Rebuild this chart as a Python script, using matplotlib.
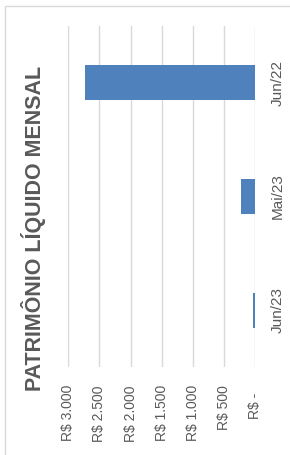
import matplotlib
matplotlib.use("Agg")
import matplotlib.pyplot as plt
from matplotlib.patches import Rectangle

# --- DATI ---
meses = ["Jun/22", "Mai/23", "Jun/23"]
patrimonio = [2730, 226, 40]
ticks_valor = [3000, 2500, 2000, 1500, 1000, 500, 0]
ticks_rotulo = ["R$ 3.000", "R$ 2.500", "R$ 2.000", "R$ 1.500", "R$ 1.000", "R$ 500", "R$ -  "]

COR_BARRA = "#4f81bd"
COR_TEXTO = "#595959"
COR_GRADE = "#d9d9d9"
FONTE = ["Liberation Sans", "DejaVu Sans"]

W, H = 290, 455
fig = plt.figure(figsize=(W / 100, H / 100), dpi=100)

# area do grafico (em pixels da imagem de referencia)
x0, x1 = 68.3, 255.0
y0, y1 = 26.0, 367.0
ax = fig.add_axes([x0 / W, 1 - y1 / H, (x1 - x0) / W, (y1 - y0) / H])

pos = list(range(len(meses)))
ax.barh(pos, patrimonio, height=0.31, color=COR_BARRA, zorder=3)

ax.set_xlim(3000, 0)
ax.set_ylim(len(meses) - 0.5, -0.5)
ax.set_xticks(ticks_valor)
ax.set_xticklabels(ticks_rotulo, rotation=90, color=COR_TEXTO, fontsize=10, family=FONTE)
ax.set_yticks(pos)
ax.set_yticklabels(meses, rotation=90, color=COR_TEXTO, fontsize=11, family=FONTE, va="center")
ax.yaxis.tick_right()
ax.tick_params(axis="x", length=0, pad=13)
ax.tick_params(axis="y", length=0, pad=11)

ax.grid(axis="x", color=COR_GRADE, linewidth=1.0, zorder=0)
for s in ax.spines.values():
    s.set_visible(False)

# titulo rodado
fig.text(33.5 / W, 1 - 228 / H, "PATRIMÔNIO LÍQUIDO MENSAL", rotation=90,
         ha="center", va="center", fontsize=15.5, fontweight="bold",
         color=COR_TEXTO, family=FONTE)

# moldura do grafico
fig.patches.append(Rectangle((5 / W, -0.01), 1.0, 1 - 6 / H + 0.01, transform=fig.transFigure,
                             fill=False, edgecolor=COR_GRADE, linewidth=1.0))

fig.savefig("out.png", dpi=100)
